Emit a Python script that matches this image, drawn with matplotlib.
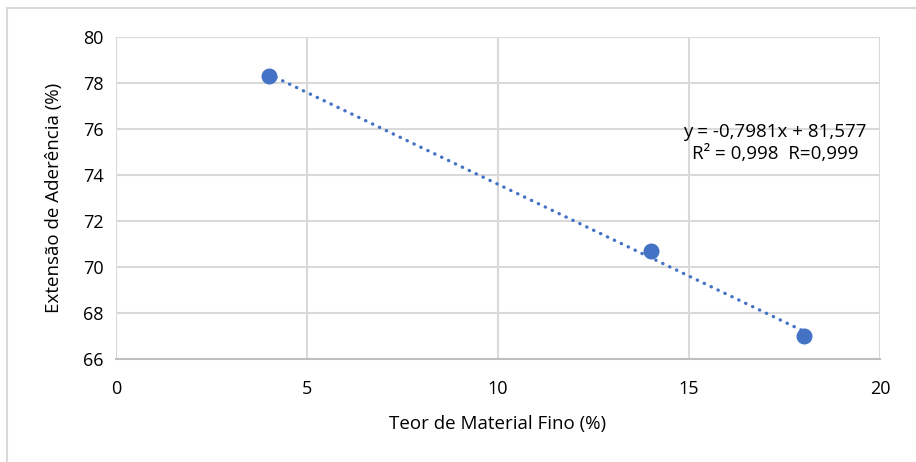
import matplotlib
matplotlib.use("Agg")
import matplotlib.pyplot as plt
import numpy as np
from matplotlib.lines import Line2D

plt.rcParams['font.family'] = ['Open Sans', 'DejaVu Sans']

x_vals = [4, 14, 18]
y_vals = [78.3, 70.7, 67.0]
slope = -0.7981
intercept = 81.577
eq_text = "y = -0,7981x + 81,577\nR² = 0,998  R=0,999"
x_label = "Teor de Material Fino (%)"
y_label = "Extensão de Aderência (%)"
x_ticks = [0, 5, 10, 15, 20]
y_ticks = [66, 68, 70, 72, 74, 76, 78, 80]

W, H = 916, 462
fig = plt.figure(figsize=(W/100, H/100), dpi=100)
ax = fig.add_axes([116/W, 1-359/H, (880-116)/W, (359-37)/H])

color = '#4472C4'
grid_c = '#d9d9d9'

# trendline
xt = np.array([min(x_vals), max(x_vals)])
ax.plot(xt, slope*xt + intercept, color=color, lw=2.4,
        linestyle=(0, (0.1, 2.2)), dash_capstyle='round', zorder=3)
ax.plot(x_vals, y_vals, 'o', color=color, markersize=10.5, zorder=4)

ax.set_xlim(0, 20)
ax.set_ylim(66, 80)
ax.set_xticks(x_ticks)
ax.set_yticks(y_ticks)
ax.grid(True, color=grid_c, lw=1.5, zorder=0)
ax.set_axisbelow(True)
for s in ['top', 'right', 'left']:
    ax.spines[s].set_visible(False)
ax.spines['bottom'].set_color('#bfbfbf')
ax.spines['bottom'].set_linewidth(1.5)
ax.tick_params(length=0, labelsize=13, colors='#000000', pad=9)
ax.tick_params(axis='x', pad=15)
ax.set_xlabel(x_label, fontsize=13.5, labelpad=12)
ax.set_ylabel(y_label, fontsize=13.5, labelpad=14)

fig.text(775/W, 1-143/H, eq_text, ha='center', va='center', fontsize=13.5,
         linespacing=1.25, zorder=5)

# outer chart border
fig.add_artist(Line2D([6.5/W, 1], [1-7.5/H, 1-7.5/H], color='#d9d9d9', lw=1.5))
fig.add_artist(Line2D([6.5/W, 6.5/W], [0, 1-7.5/H], color='#d9d9d9', lw=1.5))

fig.savefig('out.png', dpi=100)
